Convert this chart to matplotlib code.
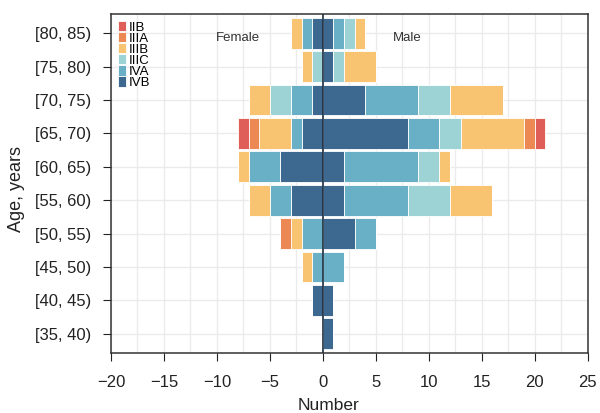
import matplotlib.pyplot as plt
import numpy as np
from matplotlib.ticker import MultipleLocator

plt.rcParams['font.family'] = ['Liberation Sans', 'DejaVu Sans']

age_groups = ['[35, 40)', '[40, 45)', '[45, 50)', '[50, 55)', '[55, 60)',
              '[60, 65)', '[65, 70)', '[70, 75)', '[75, 80)', '[80, 85)']
stages = ['IVB', 'IVA', 'IIIC', 'IIIB', 'IIIA', 'IIB']  # stacked from centre outward

female = {
    'IVB':  [0, 1, 0, 0, 3, 4, 2, 1, 0, 1],
    'IVA':  [0, 0, 1, 2, 2, 3, 1, 2, 0, 1],
    'IIIC': [0, 0, 0, 0, 0, 0, 0, 2, 1, 0],
    'IIIB': [0, 0, 1, 1, 2, 1, 3, 2, 1, 1],
    'IIIA': [0, 0, 0, 1, 0, 0, 1, 0, 0, 0],
    'IIB':  [0, 0, 0, 0, 0, 0, 1, 0, 0, 0],
}
male = {
    'IVB':  [1, 1, 0, 3, 2, 2, 8, 4, 1, 1],
    'IVA':  [0, 0, 2, 2, 6, 7, 3, 5, 0, 1],
    'IIIC': [0, 0, 0, 0, 4, 2, 2, 3, 1, 1],
    'IIIB': [0, 0, 0, 0, 4, 1, 6, 5, 3, 1],
    'IIIA': [0, 0, 0, 0, 0, 0, 1, 0, 0, 0],
    'IIB':  [0, 0, 0, 0, 0, 0, 1, 0, 0, 0],
}
colors = {
    'IIB': '#DF5F58',
    'IIIA': '#EC8853',
    'IIIB': '#F8C471',
    'IIIC': '#9DD3D5',
    'IVA': '#69B0C7',
    'IVB': '#3D6890',
}

fig = plt.figure(figsize=(6, 4.13), dpi=100)
ax = fig.add_axes([0.185, 0.1453, 0.7945, 0.8207])

y = np.arange(len(age_groups))
left_f = np.zeros(len(age_groups))
left_m = np.zeros(len(age_groups))
handles = {}
for st in stages:
    f = np.array(female[st])
    m = np.array(male[st])
    ax.barh(y, -f, left=-left_f, height=0.92, color=colors[st],
            edgecolor='white', linewidth=0.6, zorder=2)
    h = ax.barh(y, m, left=left_m, height=0.92, color=colors[st],
                edgecolor='white', linewidth=0.6, zorder=2)
    handles[st] = h
    left_f += f
    left_m += m

ax.axvline(0, color='#1f2f40', linewidth=1.2, zorder=3)

ax.set_xlim(-20, 25)
ax.set_ylim(-0.58, 9.58)
ax.xaxis.set_major_locator(MultipleLocator(5))
ax.xaxis.set_minor_locator(MultipleLocator(2.5))
ax.set_yticks(y, age_groups)
ax.grid(which='both', axis='x', color='#ebebeb', linewidth=1, zorder=0)
ax.grid(which='major', axis='y', color='#ebebeb', linewidth=1, zorder=0)
ax.set_axisbelow(True)
ax.tick_params(axis='both', which='major', labelsize=12, length=5.5,
               color='#222222', labelcolor='#222222')
ax.tick_params(axis='x', which='major', pad=10)
ax.tick_params(axis='y', which='major', pad=9)
ax.tick_params(axis='x', which='minor', length=0)
for sp in ax.spines.values():
    sp.set_color('#333333')
    sp.set_linewidth(1.1)

ax.set_xlabel('Number', fontsize=12.5, color='#222222')
ax.set_ylabel('Age, years', fontsize=13, color='#222222')
ax.xaxis.set_label_coords(0.457, -0.132)
ax.yaxis.set_label_coords(-0.180, 0.485)

ax.text(-8, 8.87, 'Female', ha='center', va='center', fontsize=9.5, color='#333333')
ax.text(8, 8.87, 'Male', ha='center', va='center', fontsize=9.5, color='#333333')

legend_order = ['IIB', 'IIIA', 'IIIB', 'IIIC', 'IVA', 'IVB']
ax.legend([handles[s] for s in legend_order], legend_order, loc='upper left',
          frameon=False, fontsize=9.5, handlelength=0.6, handleheight=0.86,
          labelspacing=-0.136, handletextpad=0.25, borderaxespad=0.3,
          borderpad=0.2)

fig.savefig('out.png', dpi=100)
